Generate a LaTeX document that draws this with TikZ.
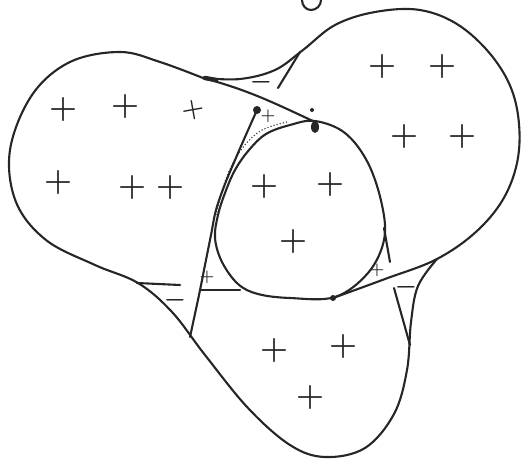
\documentclass[tikz,border=0pt]{standalone}
\usepackage{tikz}

\begin{document}
\begin{tikzpicture}[x=1pt, y=-1pt,
  pen/.style={line width=2.1pt, line cap=round, line join=round, black!85},
  blob/.style={fill=black!85},
  plus/.style={font=\fontsize{32}{32}\selectfont\bfseries, inner sep=0pt, black!85},
  plussm/.style={font=\fontsize{17}{17}\selectfont\bfseries, inner sep=0pt, black!85},
  minus/.style={font=\fontsize{24}{24}\selectfont\boldmath, inner sep=0pt, black!85}
]
  \useasboundingbox (0,0) rectangle (524,460);
  % Mark cut off at the top
  \draw[pen] (302,0) to[out=-90, in=180] (311,10) to[out=0, in=-90] (321,0);
  % Left and bottom lobes, outer line
  \draw[pen] plot[smooth, tension=0.6] coordinates {
    (203,78) (160,62) (120,52) (70,62) (32,95) (10,150) (16,202) (46,240)
    (95,265) (138,283) (172,312) (205,355) (248,408) (290,445) (325,457)
    (365,448) (394,414) (407,370) (411,322) (418,286) (437,259)};
  % Right lobe, outer line
  \draw[pen] plot[smooth, tension=0.6] coordinates {
    (333,298) (385,279) (437,259) (478,230) (506,194) (519,150) (515,100)
    (495,60) (460,26) (420,10) (375,12) (335,25) (303,50) (275,70)
    (240,79) (203,78)};
  % Diagonal from the left junction to the circle
  \draw[pen] (203,78) to[out=-15, in=155] (315,122);
  \draw[line width=4.5pt, line cap=round, black!85] (205,78) -- (216,80);
  % Central circle
  \draw[pen] plot[smooth cycle, tension=0.6] coordinates {
    (315,121) (345,133) (368,163) (382,205) (384,240) (368,273) (335,297)
    (290,298) (258,294) (238,284) (222,262) (215,238) (218,215) (225,193)
    (235,170) (249,150) (266,134) (290,125)};
  \draw[black!70, line width=1.2pt, dotted] plot[smooth, tension=0.6] coordinates {
    (287,122) (262,130) (244,146) (231,167) (222,191) (216,215)};
  % Inner strokes
  \draw[pen] plot[smooth, tension=0.6] coordinates {
    (257,110) (245,137) (235,160) (225,184) (216,210) (211,235) (205,265)
    (199,295) (190,337)};
  \draw[pen] (278,88) -- (300,52);
  \draw[pen] (384,228) -- (390,262);
  \draw[pen] (394,288) -- (410,345);
  \draw[pen] (137,283) -- (180,285);
  \draw[pen] (200,290) -- (240,290);
  % Dots
  \fill[blob] (257,110) circle[radius=4];
  \fill[blob] (315,127) ellipse[x radius=4, y radius=6];
  \fill[blob] (312,110) circle[radius=2];
  \fill[blob] (333,298) circle[radius=3];
  % Left lobe
  \node[plus] (p1) at (63,110) {+};
  \node[plus] (p2) at (125,107) {+};
  \node[plus, font=\fontsize{26}{26}\selectfont\bfseries, rotate=10] (p3) at (193,110) {+};
  \node[plus] (p4) at (58,183) {+};
  \node[plus] (p5) at (132,188) {+};
  \node[plus] (p6) at (170,188) {+};
  % Circle
  \node[plus] (p7) at (264,187) {+};
  \node[plus] (p8) at (330,185) {+};
  \node[plus] (p9) at (293,242) {+};
  % Right lobe
  \node[plus] (p10) at (382,67) {+};
  \node[plus] (p11) at (442,67) {+};
  \node[plus] (p12) at (404,137) {+};
  \node[plus] (p13) at (462,137) {+};
  % Bottom lobe
  \node[plus] (p14) at (274,351) {+};
  \node[plus] (p15) at (343,347) {+};
  \node[plus] (p16) at (310,398) {+};
  % Small signs in the gaps
  \node[plussm] (q1) at (268,116) {+};
  \node[plussm] (q2) at (207,277) {+};
  \node[plussm] (q3) at (377,270) {+};
  \node[minus] (m1) at (261,82) {$-$};
  \node[minus] (m2) at (175,300) {$-$};
  \node[minus] (m3) at (406,287) {$-$};
\end{tikzpicture}
\end{document}
